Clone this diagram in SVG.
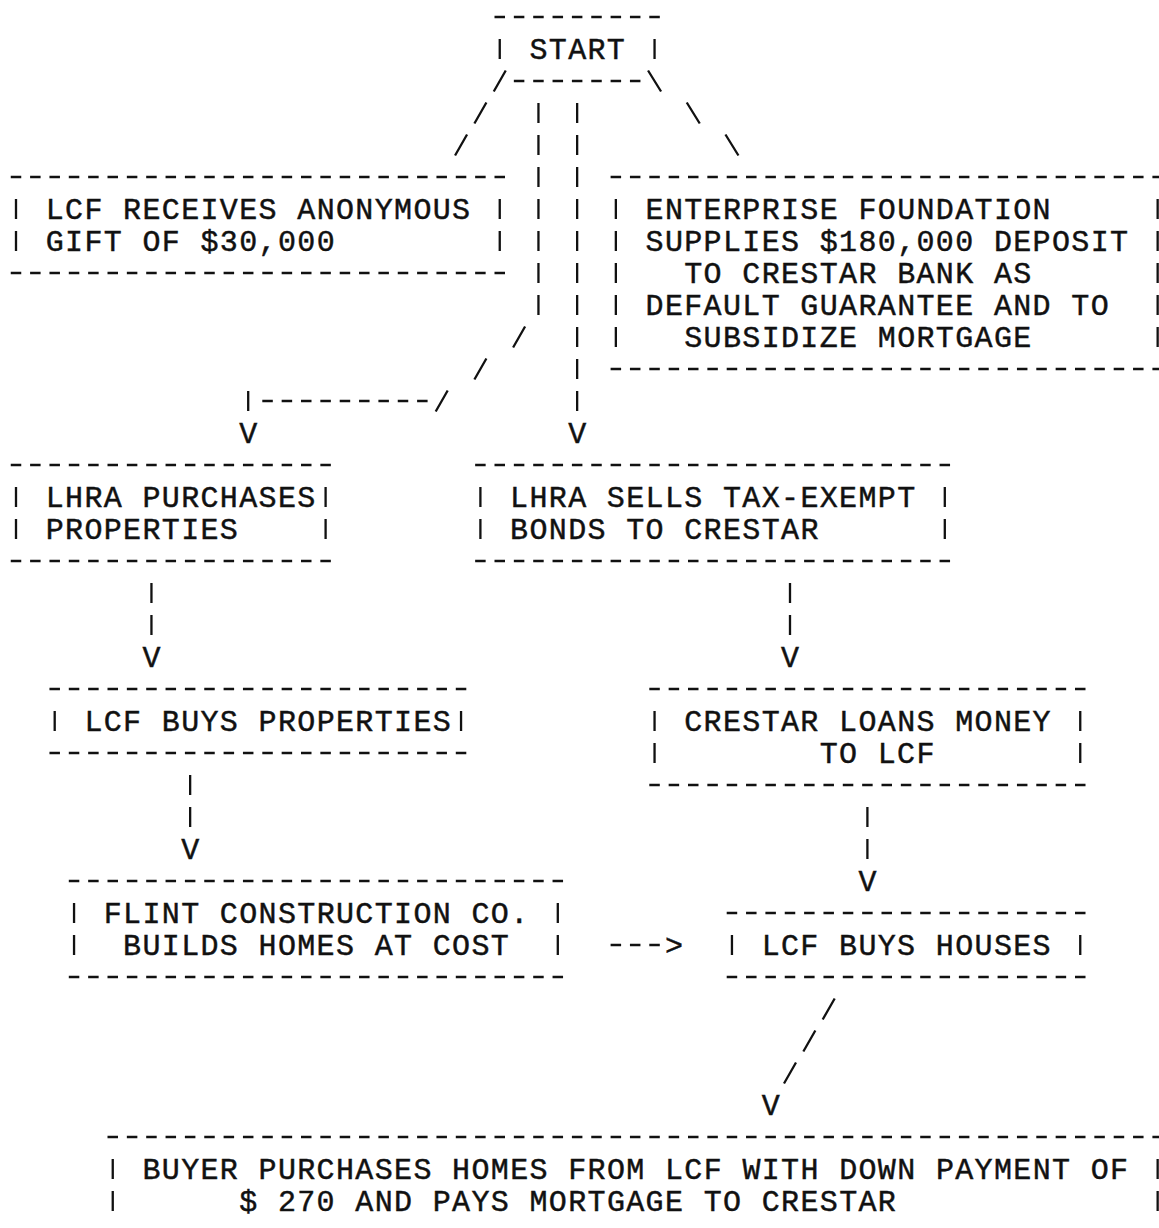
<svg xmlns="http://www.w3.org/2000/svg" width="1159" height="1228" viewBox="0 0 1159 1228">
<style>
.d{stroke:#111;stroke-width:2.3;stroke-dasharray:10.5 8.85;fill:none}
.p{stroke:#111;stroke-width:2.3;fill:none;stroke-linecap:butt}
.t{font-family:"Liberation Mono","Courier New",monospace;font-size:30px;letter-spacing:1.35px;fill:#111;stroke:#111;stroke-width:0.45}
.v{font-family:"Liberation Mono","Courier New",monospace;font-size:30px;fill:#111;stroke:#111;stroke-width:0.45;text-anchor:middle}
</style>
<rect width="1159" height="1228" fill="#fff"/>

<g id="node-start">
<line class="d" x1="494.5" y1="17" x2="659.8" y2="17"/>
<path class="p" d="M499.75 39V59M654.55 39V59"/>
<text class="t" x="529.45" y="59">START</text>
<line class="d" x1="513.85" y1="81" x2="640.45" y2="81"/>
</g>

<g id="node-gift">
<line class="d" x1="10.75" y1="177" x2="505" y2="177"/>
<path class="p" d="M16 199V219M16 231V251M499.75 199V219M499.75 231V251"/>
<text class="t" x="45.7" y="219">LCF RECEIVES ANONYMOUS</text>
<text class="t" x="45.7" y="251">GIFT OF $30,000</text>
<line class="d" x1="10.75" y1="273" x2="505" y2="273"/>
</g>

<g id="node-enterprise">
<line class="d" x1="610.6" y1="177" x2="1162.9" y2="177"/>
<path class="p" d="M615.85 199V219M615.85 231V251M615.85 263V283M615.85 295V315M615.85 327V347M1157.65 199V219M1157.65 231V251M1157.65 263V283M1157.65 295V315M1157.65 327V347"/>
<text class="t" x="645.55" y="219">ENTERPRISE FOUNDATION</text>
<text class="t" x="645.55" y="251">SUPPLIES $180,000 DEPOSIT</text>
<text class="t" x="684.25" y="283">TO CRESTAR BANK AS</text>
<text class="t" x="645.55" y="315">DEFAULT GUARANTEE AND TO</text>
<text class="t" x="684.25" y="347">SUBSIDIZE MORTGAGE</text>
<line class="d" x1="610.6" y1="369" x2="1162.9" y2="369"/>
</g>

<g id="node-lhra-purchases">
<line class="d" x1="10.75" y1="465" x2="330.85" y2="465"/>
<path class="p" d="M16 487V507M16 519V539M325.6 487V507M325.6 519V539"/>
<text class="t" x="45.7" y="507">LHRA PURCHASES</text>
<text class="t" x="45.7" y="539">PROPERTIES</text>
<line class="d" x1="10.75" y1="561" x2="330.85" y2="561"/>
</g>

<g id="node-lhra-sells">
<line class="d" x1="475.15" y1="465" x2="950.05" y2="465"/>
<path class="p" d="M480.4 487V507M480.4 519V539M944.8 487V507M944.8 519V539"/>
<text class="t" x="510.1" y="507">LHRA SELLS TAX-EXEMPT</text>
<text class="t" x="510.1" y="539">BONDS TO CRESTAR</text>
<line class="d" x1="475.15" y1="561" x2="950.05" y2="561"/>
</g>

<g id="node-lcf-buys-properties">
<line class="d" x1="49.45" y1="689" x2="466.3" y2="689"/>
<path class="p" d="M54.7 711V731M461.05 711V731"/>
<text class="t" x="84.4" y="731">LCF BUYS PROPERTIES</text>
<line class="d" x1="49.45" y1="753" x2="466.3" y2="753"/>
</g>

<g id="node-crestar-loans">
<line class="d" x1="649.3" y1="689" x2="1085.5" y2="689"/>
<path class="p" d="M654.55 711V731M654.55 743V763M1080.25 711V731M1080.25 743V763"/>
<text class="t" x="684.25" y="731">CRESTAR LOANS MONEY</text>
<text class="t" x="819.7" y="763">TO LCF</text>
<line class="d" x1="649.3" y1="785" x2="1085.5" y2="785"/>
</g>

<g id="node-flint">
<line class="d" x1="68.8" y1="881" x2="563.05" y2="881"/>
<path class="p" d="M74.05 903V923M74.05 935V955M557.8 903V923M557.8 935V955"/>
<text class="t" x="103.75" y="923">FLINT CONSTRUCTION CO.</text>
<text class="t" x="123.1" y="955">BUILDS HOMES AT COST</text>
<line class="d" x1="68.8" y1="977" x2="563.05" y2="977"/>
</g>

<g id="node-lcf-buys-houses">
<line class="d" x1="726.7" y1="913" x2="1085.5" y2="913"/>
<path class="p" d="M731.95 935V955M1080.25 935V955"/>
<text class="t" x="761.65" y="955">LCF BUYS HOUSES</text>
<line class="d" x1="726.7" y1="977" x2="1085.5" y2="977"/>
</g>

<g id="node-buyer">
<line class="d" x1="107.5" y1="1137" x2="1162.9" y2="1137"/>
<path class="p" d="M112.75 1159V1179M112.75 1191V1211M1157.65 1159V1179M1157.65 1191V1211"/>
<text class="t" x="142.45" y="1179">BUYER PURCHASES HOMES FROM LCF WITH DOWN PAYMENT OF</text>
<text class="t" x="239.2" y="1211">$ 270 AND PAYS MORTGAGE TO CRESTAR</text>
</g>

<g id="connectors">
<path id="c-start-gift" class="p" d="M505.75 70.5L493.75 91.5M486.4 102.5L474.4 123.5M467.05 134.5L455.05 155.5"/>
<path id="c-start-enterprise" class="p" d="M648.05 70.5L661.05 91.5M686.75 102.5L699.75 123.5M725.45 134.5L738.45 155.5"/>
<g id="c-start-lhra-purchases">
<path class="p" d="M538.45 103V123M538.45 135V155M538.45 167V187M538.45 199V219M538.45 231V251M538.45 263V283M538.45 295V315M525.1 326.5L513.1 347.5M486.4 358.5L474.4 379.5M447.7 390.5L435.7 411.5M248.2 391V411"/>
<line class="d" x1="262.3" y1="401" x2="427.6" y2="401"/>
<text class="v" x="248.2" y="443">V</text>
</g>
<g id="c-start-lhra-sells">
<path class="p" d="M577.15 103V123M577.15 135V155M577.15 167V187M577.15 199V219M577.15 231V251M577.15 263V283M577.15 295V315M577.15 327V347M577.15 359V379M577.15 391V411"/>
<text class="v" x="577.15" y="443">V</text>
</g>
<g id="c-lhra-purchases-lcf">
<path class="p" d="M151.45 583V603M151.45 615V635"/>
<text class="v" x="151.45" y="667">V</text>
</g>
<g id="c-lhra-sells-crestar">
<path class="p" d="M790 583V603M790 615V635"/>
<text class="v" x="790" y="667">V</text>
</g>
<g id="c-lcf-flint">
<path class="p" d="M190.15 775V795M190.15 807V827"/>
<text class="v" x="190.15" y="859">V</text>
</g>
<g id="c-crestar-houses">
<path class="p" d="M867.4 807V827M867.4 839V859"/>
<text class="v" x="867.4" y="891">V</text>
</g>
<g id="c-flint-houses">
<line class="d" x1="610.6" y1="945" x2="659.8" y2="945"/>
<text class="v" x="673.9" y="955">&gt;</text>
</g>
<g id="c-houses-buyer">
<path class="p" d="M834.7 998.5L822.7 1019.5M815.35 1030.5L803.35 1051.5M796 1062.5L784 1083.5"/>
<text class="v" x="770.65" y="1115">V</text>
</g>
</g>
</svg>
